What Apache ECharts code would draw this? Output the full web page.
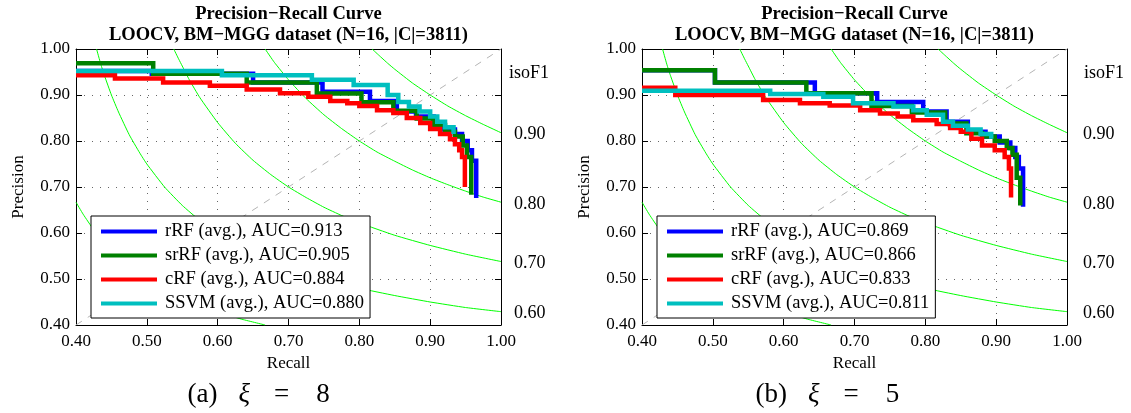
<!DOCTYPE html>
<html><head><meta charset="utf-8">
<script src="https://cdn.jsdelivr.net/npm/echarts@6/dist/echarts.min.js"></script>
<style>html,body{margin:0;padding:0;background:#fff}#c{width:1131px;height:413px}</style>
</head><body><div id="c"></div><script>
const FONT = '"Liberation Serif", "Times New Roman", serif';

// ---- data (recall, precision) ----
const leftNames = ['rRF (avg.), AUC=0.913','srRF (avg.), AUC=0.905','cRF (avg.), AUC=0.884','SSVM (avg.), AUC=0.880'];
const rightNames = ['rRF (avg.), AUC=0.869','srRF (avg.), AUC=0.866','cRF (avg.), AUC=0.833','SSVM (avg.), AUC=0.811'];
const seriesColors = ['#0000ff','#008000','#ff0000','#00bfbf'];

const leftRRF = [[0.4,0.952],[0.507,0.946],[0.65,0.927],[0.748,0.907],[0.815,0.887],[0.853,0.864],[0.88,0.853],[0.905,0.838],[0.92,0.825],[0.935,0.815],[0.945,0.80],[0.953,0.78],[0.959,0.757],[0.965,0.676]];
const leftSRRF = [[0.4,0.969],[0.509,0.946],[0.641,0.927],[0.74,0.903],[0.803,0.884],[0.848,0.866],[0.881,0.849],[0.904,0.835],[0.921,0.82],[0.935,0.81],[0.946,0.79],[0.952,0.765],[0.958,0.683]];
const leftCRF = [[0.4,0.943],[0.455,0.936],[0.523,0.927],[0.589,0.920],[0.641,0.912],[0.688,0.904],[0.728,0.896],[0.759,0.887],[0.783,0.882],[0.8,0.876],[0.825,0.867],[0.848,0.861],[0.867,0.85],[0.886,0.839],[0.9,0.826],[0.914,0.815],[0.928,0.804],[0.935,0.793],[0.941,0.78],[0.945,0.765],[0.949,0.70]];
const leftSSVM = [[0.4,0.952],[0.606,0.943],[0.733,0.933],[0.792,0.922],[0.84,0.90],[0.855,0.885],[0.87,0.875],[0.885,0.864],[0.90,0.853],[0.91,0.842],[0.921,0.83],[0.933,0.815]];

const rightRRF = [[0.4,0.954],[0.503,0.927],[0.644,0.904],[0.732,0.885],[0.797,0.864],[0.83,0.842],[0.86,0.82],[0.885,0.81],[0.905,0.797],[0.92,0.785],[0.927,0.765],[0.932,0.74],[0.938,0.657]];
const rightSRRF = [[0.4,0.954],[0.503,0.927],[0.632,0.904],[0.724,0.876],[0.781,0.862],[0.828,0.838],[0.858,0.817],[0.88,0.81],[0.898,0.8],[0.915,0.785],[0.923,0.77],[0.929,0.72],[0.934,0.66]];
const rightCRF = [[0.4,0.916],[0.447,0.9],[0.571,0.889],[0.623,0.882],[0.665,0.877],[0.708,0.867],[0.736,0.86],[0.761,0.853],[0.783,0.845],[0.816,0.837],[0.835,0.828],[0.85,0.82],[0.865,0.805],[0.88,0.79],[0.898,0.78],[0.912,0.765],[0.918,0.74],[0.921,0.677]];
const rightSSVM = [[0.4,0.909],[0.581,0.902],[0.656,0.896],[0.698,0.882],[0.755,0.875],[0.783,0.867],[0.802,0.857],[0.825,0.842],[0.839,0.833],[0.86,0.825],[0.878,0.815],[0.893,0.805]];

// iso-F1 guide curves (recall, precision)
const isoLabels = ['0.90','0.80','0.70','0.60',''];
const iso90 = [[0.818,1],[0.83,0.983],[0.84,0.969],[0.85,0.956],[0.875,0.926],[0.9,0.9],[0.925,0.876],[0.95,0.855],[0.975,0.836],[1,0.818]];
const iso80 = [[0.667,1],[0.68,0.971],[0.7,0.933],[0.725,0.892],[0.75,0.857],[0.775,0.827],[0.8,0.8],[0.825,0.776],[0.85,0.756],[0.875,0.737],[0.9,0.72],[0.925,0.705],[0.95,0.691],[0.975,0.678],[1,0.667]];
const iso70 = [[0.538,1],[0.545,0.978],[0.55,0.963],[0.56,0.933],[0.575,0.894],[0.6,0.84],[0.625,0.795],[0.65,0.758],[0.675,0.727],[0.7,0.7],[0.725,0.677],[0.75,0.656],[0.775,0.638],[0.8,0.622],[0.85,0.595],[0.9,0.573],[0.95,0.554],[1,0.538]];
const iso60 = [[0.429,1],[0.435,0.967],[0.44,0.943],[0.45,0.9],[0.46,0.863],[0.475,0.814],[0.49,0.774],[0.5,0.75],[0.525,0.7],[0.55,0.66],[0.575,0.627],[0.6,0.6],[0.65,0.557],[0.7,0.525],[0.75,0.5],[0.8,0.48],[0.85,0.464],[0.9,0.45],[0.95,0.438],[1,0.429]];
const iso50 = [[0.4,0.667],[0.41,0.641],[0.425,0.607],[0.44,0.579],[0.45,0.563],[0.475,0.528],[0.5,0.5],[0.525,0.477],[0.55,0.458],[0.575,0.442],[0.6,0.429],[0.633,0.413],[0.667,0.4]];
const diagonal = [[0.4,0.4],[1,1]];

const panelCaptions = ['(a)', '(b)'];
const panelXi = ['8', '5'];

// ---- layout ----
const grids = [
  {left: 76, top: 49, width: 425, height: 276},
  {left: 642, top: 49, width: 425, height: 276}
];

const tickFmt = v => v.toFixed(2);
const xAxes = [], yAxes = [];
grids.forEach((g, i) => {
  xAxes.push({gridIndex: i, type: 'value', min: 0.4, max: 1, interval: 0.1, position: 'bottom',
    name: 'Recall', nameLocation: 'middle', nameGap: 27,
    nameTextStyle: {fontFamily: FONT, fontSize: 17, color: '#000'},
    axisLine: {lineStyle: {color: '#000', width: 1}},
    axisTick: {inside: true, length: 6, lineStyle: {color: '#000'}},
    axisLabel: {formatter: tickFmt, fontFamily: FONT, fontSize: 17, color: '#000', margin: 8},
    splitLine: {show: true, lineStyle: {color: '#666', width: 1, type: [1, 7]}}
  });
  xAxes.push({gridIndex: i, type: 'value', min: 0.4, max: 1, interval: 0.1, position: 'top',
    axisLine: {lineStyle: {color: '#000', width: 1}},
    axisTick: {inside: true, length: 6, lineStyle: {color: '#000'}},
    axisLabel: {show: false}, splitLine: {show: false}
  });
  yAxes.push({gridIndex: i, type: 'value', min: 0.4, max: 1, interval: 0.1, position: 'left',
    name: 'Precision', nameLocation: 'middle', nameGap: 49,
    nameTextStyle: {fontFamily: FONT, fontSize: 17, color: '#000'},
    axisLine: {lineStyle: {color: '#000', width: 1}},
    axisTick: {inside: true, length: 6, lineStyle: {color: '#000'}},
    axisLabel: {formatter: tickFmt, fontFamily: FONT, fontSize: 17, color: '#000', margin: 6},
    splitLine: {show: true, lineStyle: {color: '#666', width: 1, type: [1, 7]}}
  });
  yAxes.push({gridIndex: i, type: 'value', min: 0.4, max: 1, interval: 0.1, position: 'right',
    axisLine: {lineStyle: {color: '#000', width: 1}},
    axisTick: {inside: true, length: 6, lineStyle: {color: '#000'}},
    axisLabel: {show: false}, splitLine: {show: false}
  });
});

const isoCurves = [iso90, iso80, iso70, iso60, iso50];
const series = [];
const panels = [
  {names: leftNames, data: [leftRRF, leftSRRF, leftCRF, leftSSVM]},
  {names: rightNames, data: [rightRRF, rightSRRF, rightCRF, rightSSVM]}
];
panels.forEach((p, gi) => {
  const ax = gi * 2;
  series.push({type: 'line', data: diagonal, xAxisIndex: ax, yAxisIndex: ax, symbol: 'none', silent: true, z: 1,
    lineStyle: {color: '#b4b4b4', width: 1, type: [7, 7]}});
  isoCurves.forEach((c, k) => {
    const s = {type: 'line', data: c, xAxisIndex: ax, yAxisIndex: ax, symbol: 'none', silent: true, z: 2,
      smooth: 0.15, clip: true,
      lineStyle: {color: '#00ff00', width: 1}};
    if (isoLabels[k]) {
      s.endLabel = {show: true, formatter: isoLabels[k], distance: 13 + gi * 3, offset: [0, 2],
        fontFamily: FONT, fontSize: 18, color: '#000'};
    }
    series.push(s);
  });
  p.data.forEach((d, k) => {
    series.push({type: 'line', name: p.names[k], data: d, xAxisIndex: ax, yAxisIndex: ax,
      step: 'end', symbol: 'none', silent: true, z: 5 + k, clip: true,
      lineStyle: {color: seriesColors[k], width: 4.5, join: 'miter'},
      itemStyle: {color: seriesColors[k]}});
  });
});

const legends = panels.map((p, gi) => ({
  data: p.names, left: grids[gi].left + 15, top: 216, orient: 'vertical',
  icon: 'rect', itemWidth: 56, itemHeight: 4, itemGap: 3,
  padding: [5, 6, 4, 10], backgroundColor: '#fff', borderColor: '#000', borderWidth: 1, borderRadius: 0,
  selectedMode: false, itemStyle: {borderWidth: 0},
  textStyle: {fontFamily: FONT, fontSize: 18.5, color: '#000', lineHeight: 21, padding: [0, 0, 0, 3]}
}));

const graphics = [];
grids.forEach((g, gi) => {
  const cx = g.left + g.width / 2;
  graphics.push({type: 'text', x: cx, y: 14, style: {text: 'Precision\u2212Recall Curve', textAlign: 'center', textVerticalAlign: 'middle',
    font: 'bold 18.5px ' + FONT, fill: '#000'}});
  graphics.push({type: 'text', x: cx, y: 35, style: {text: 'LOOCV, BM\u2212MGG dataset (N=16, |C|=3811)', textAlign: 'center', textVerticalAlign: 'middle',
    font: 'bold 18.5px ' + FONT, fill: '#000'}});
  graphics.push({type: 'text', x: g.left + g.width + 8 + gi * 9, y: 73, style: {text: 'isoF1', textAlign: 'left', textVerticalAlign: 'middle',
    font: '18px ' + FONT, fill: '#000'}});
  graphics.push({type: 'text', x: cx - 101 + gi * 2, y: 395, style: {
    text: '{t|' + panelCaptions[gi] + '}{i|\u03BE}{e|=}{t|' + panelXi[gi] + '}',
    textAlign: 'left', textVerticalAlign: 'middle',
    rich: {
      t: {fontFamily: FONT, fontSize: 27, fill: '#000'},
      i: {fontFamily: FONT, fontSize: 27, fontStyle: 'italic', fill: '#000', padding: [0, 0, 0, 21]},
      e: {fontFamily: FONT, fontSize: 27, fill: '#000', padding: [0, 27, 0, 24]}
    }}});
});

const chart = echarts.init(document.getElementById('c'), null, {renderer: 'canvas'});
chart.setOption({
  animation: false,
  backgroundColor: '#fff',
  grid: grids,
  xAxis: xAxes,
  yAxis: yAxes,
  legend: legends,
  series: series,
  graphic: graphics
});
</script></body></html>
